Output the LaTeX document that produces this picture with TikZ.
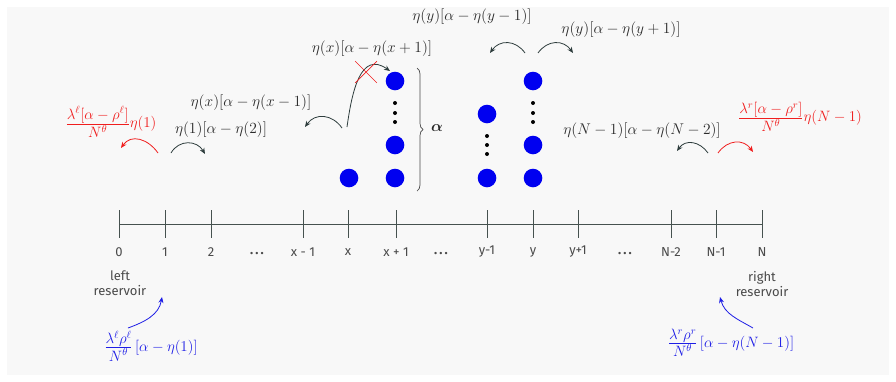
\RequirePackage{fix-cm}
\documentclass[tikz,border=0pt]{standalone}
\usepackage{amsmath}
\usepackage{fontspec}
\setsansfont{Fira Sans}
\usetikzlibrary{arrows.meta,decorations.pathreplacing,shapes.misc}
\definecolor{bgcol}{HTML}{F8F8F8}
\definecolor{arrcol}{HTML}{2E3D3D}
\definecolor{txtcol}{HTML}{2A2A2A}
\definecolor{axcol}{HTML}{46524F}
\definecolor{lblcol}{HTML}{4A4A4A}
\definecolor{myred}{HTML}{F01E1E}
\definecolor{myblue}{HTML}{1E1EE6}
\definecolor{dotblue}{HTML}{0000F0}
\newcommand{\tsfrac}[2]{\frac{\textstyle #1}{\textstyle #2}}
\begin{document}
\begin{tikzpicture}[x=1pt,y=1pt,
  darr/.style={draw=arrcol, line width=0.8pt, -{Stealth[length=6pt,width=5pt]}},
  rarr/.style={darr, draw=myred},
  barr/.style={darr, draw=myblue},
  mlab/.style={text=txtcol, font=\fontsize{15.5}{18}\selectfont, inner sep=0pt},
  flab/.style={mlab, font=\fontsize{15}{18}\selectfont},
  axlab/.style={text=lblcol, font=\sffamily\fontsize{13}{14.5}\selectfont, inner sep=0pt},
  tickline/.style={draw=axcol, line width=0.8pt},
  bdot/.style={circle, fill=dotblue, minimum size=18.6pt, inner sep=0pt},
  sdot/.style={circle, fill=black, minimum size=4pt, inner sep=0pt},
  bracestyle/.style={draw=lblcol, line width=0.7pt, decorate, decoration={brace, amplitude=6pt}},
  crossmark/.style={draw=myred, line width=0.7pt, cross out, minimum size=21pt, inner sep=0pt}
]
\useasboundingbox (0,0) rectangle (896,-381);
\fill[bgcol] (7,-7) rectangle (889,-375);

% axis
\coordinate (axL) at (119,-224);
\coordinate (axR) at (762,-224);
\draw[tickline] (axL) -- (axR);
\foreach \xx/\lab/\nm in {119/0/t0, 165/1/t1, 211/2/t2, 303/x - 1/txm, 348/x/tx, 396/x + 1/txp,
  487/y-1/tym, 533/y/ty, 578/y+1/typ, 671/N-2/tNm, 716/N-1/tN1, 762/N/tN}{
  \draw[tickline] (\xx,-210) -- (\xx,-238);
  \node[axlab] (\nm) at (\xx,-252) {\lab};
}
\node[axlab] (d1) at (257,-254) {\textbf{.\,.\,.}};
\node[axlab] (d2) at (441,-254) {\textbf{.\,.\,.}};
\node[axlab] (d3) at (625,-254) {\textbf{.\,.\,.}};

% particles
\node[bdot] (p1) at (349,-178) {};
\node[bdot] (p2) at (395,-81) {};
\node[bdot] (p3) at (395,-145) {};
\node[bdot] (p4) at (395,-178) {};
\node[bdot] (p5) at (487,-114) {};
\node[bdot] (p6) at (487,-178) {};
\node[bdot] (p7) at (533,-81) {};
\node[bdot] (p8) at (533,-145) {};
\node[bdot] (p9) at (533,-178) {};
\foreach \yy [count=\i] in {103,113,122}{
  \node[sdot] (sa\i) at (395,-\yy) {};
  \node[sdot] (sc\i) at (533,-\yy) {};
}
\foreach \yy [count=\i] in {136,145,154}{
  \node[sdot] (sb\i) at (487,-\yy) {};
}

% brace
\coordinate (brT) at (417,-68);
\coordinate (brB) at (417,-191);
\draw[bracestyle] (brT) -- (brB);
\node[mlab] (alab) at (437,-128) {$\boldsymbol{\alpha}$};

% labels
\node[flab, text=myred] (rl) at (111,-122) {$\tsfrac{\lambda^{\ell}[\alpha-\rho^{\ell}]}{N^{\theta}}\eta(1)$};
\node[mlab] (l1) at (221,-130) {$\eta(1)[\alpha-\eta(2)]$};
\node[mlab] (lx1) at (251,-103) {$\eta(x)[\alpha-\eta(x-1)]$};
\node[mlab] (lx2) at (372,-49) {$\eta(x)[\alpha-\eta(x+1)]$};
\node[mlab] (ly1) at (472,-17) {$\eta(y)[\alpha-\eta(y-1)]$};
\node[mlab] (ly2) at (621,-30) {$\eta(y)[\alpha-\eta(y+1)]$};
\node[mlab] (lN) at (642,-131) {$\eta(N-1)[\alpha-\eta(N-2)]$};
\node[flab, text=myred] (rr) at (800,-117) {$\tsfrac{\lambda^{r}[\alpha-\rho^{r}]}{N^{\theta}}\eta(N-1)$};
\node[flab, text=myblue] (bl) at (151,-346) {$\tsfrac{\lambda^{\ell}\rho^{\ell}}{N^{\theta}}\,[\alpha-\eta(1)]$};
\node[flab, text=myblue] (br) at (731,-343) {$\tsfrac{\lambda^{r}\rho^{r}}{N^{\theta}}\,[\alpha-\eta(N-1)]$};
\node[axlab, align=center] (lres) at (120,-283) {left\\reservoir};
\node[axlab, align=center] (rres) at (762,-284) {right\\reservoir};

% arrow end points
\coordinate (a1s) at (171,-153); \coordinate (a1e) at (205,-154);
\coordinate (a2s) at (158,-153); \coordinate (a2e) at (121,-148);
\coordinate (a3s) at (342,-128); \coordinate (a3e) at (305,-127);
\coordinate (a4s) at (347,-127); \coordinate (a4e) at (390,-71);
\coordinate (a5s) at (525,-53);  \coordinate (a5e) at (490,-53);
\coordinate (a6s) at (538,-53);  \coordinate (a6e) at (573,-53);
\coordinate (a7s) at (708,-153); \coordinate (a7e) at (677,-151);
\coordinate (a8s) at (718,-153); \coordinate (a8e) at (753,-152);
\coordinate (a9s) at (128,-328); \coordinate (a9e) at (162,-297);
\coordinate (a10s) at (753,-328); \coordinate (a10e) at (720,-297);

\draw[darr] (a1s) to[out=60,in=120,looseness=1.2] (a1e);
\draw[rarr] (a2s) to[out=125,in=55,looseness=1.2] (a2e);
\draw[darr] (a3s) to[out=125,in=55,looseness=1.2] (a3e);
\draw[darr] (a4s) to[out=82,in=145,looseness=1.3] (a4e);
\draw[darr] (a5s) to[out=125,in=55,looseness=1.2] (a5e);
\draw[darr] (a6s) to[out=55,in=125,looseness=1.2] (a6e);
\draw[darr] (a7s) to[out=125,in=55,looseness=1.2] (a7e);
\draw[rarr] (a8s) to[out=55,in=125,looseness=1.2] (a8e);
\draw[barr] (a9s) to[out=20,in=-100] (a9e);
\draw[barr] (a10s) to[out=150,in=-75] (a10e);

\node[crossmark] (xm) at (366,-72) {};
\end{tikzpicture}
\end{document}
